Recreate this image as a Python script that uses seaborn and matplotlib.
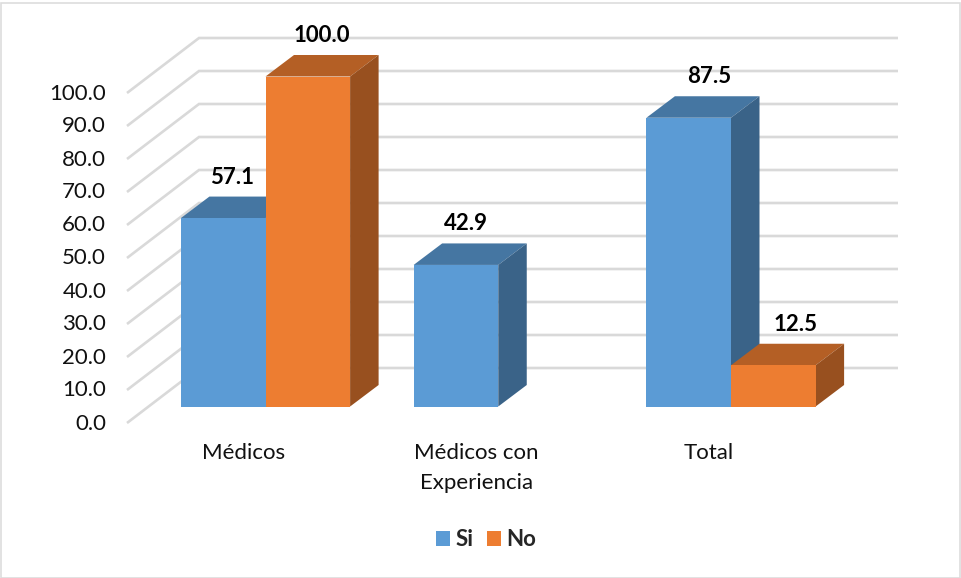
import matplotlib
matplotlib.use("Agg")
import matplotlib.pyplot as plt
import matplotlib.colors as mc
from matplotlib.patches import Polygon, Rectangle
from matplotlib.transforms import ScaledTranslation
import pandas as pd
import seaborn as sns

categories = ["Médicos", "Médicos con\nExperiencia", "Total"]
si_values = [57.1, 42.9, 87.5]
no_values = [100.0, None, 12.5]
series_names = ["Si", "No"]
y_ticks = [0, 10, 20, 30, 40, 50, 60, 70, 80, 90, 100]

sns.set_theme(style="white")
plt.rcParams["font.family"] = ["Lato", "DejaVu Sans"]

W, H = 961, 578
fig = plt.figure(figsize=(W / 100, H / 100), dpi=100, facecolor="white")

# layout in pixels of the picture
PX_LEFT, PX_RIGHT = 127, 898
PX_BASE, PX_TOP = 406.5, 76.5
PX_CAT0, PX_STEP = 265.5, 232.75
BAR_PX = 84.6
DEPTH_X_PX, DEPTH_Y_PX = 28.5, 21.5
ax = fig.add_axes([PX_LEFT / W, 1 - PX_BASE / H, (PX_RIGHT - PX_LEFT) / W, (PX_BASE - PX_TOP) / H])

df = pd.DataFrame({
    "cat": categories * 2,
    "serie": [series_names[0]] * 3 + [series_names[1]] * 3,
    "val": si_values + no_values,
})
palette = {"Si": "#5B9BD5", "No": "#ED7D31"}
sns.barplot(data=df, x="cat", y="val", hue="serie", hue_order=series_names, order=categories,
            palette=palette, width=2 * BAR_PX / PX_STEP, gap=0, saturation=1, dodge=True,
            ax=ax, zorder=3, err_kws={"linewidth": 0}, linewidth=0)

ax.set_xlim((PX_LEFT - PX_CAT0) / PX_STEP, (PX_RIGHT - PX_CAT0) / PX_STEP)
ax.set_ylim(0, 100)
for s in ax.spines.values():
    s.set_visible(False)
ax.set_xlabel("")
ax.set_ylabel("")
ax.grid(False)
ax.patch.set_alpha(0)

ux = 1 / PX_STEP
uy = 100 / (PX_BASE - PX_TOP)
dx, dy = DEPTH_X_PX * ux, DEPTH_Y_PX * uy


def px_x(p):
    return (p - PX_CAT0) * ux


# 3-D floor / back wall gridlines
GRID = "#D9D9D9"
WALL_X0, WALL_X1 = 199, 898
for v in y_ticks:
    wall = v + (PX_BASE - 368) * uy
    front = v - (423 - PX_BASE) * uy
    ax.plot([px_x(127), px_x(WALL_X0), px_x(WALL_X1)], [front, wall, wall], color=GRID, lw=1.9,
            clip_on=False, zorder=1, solid_joinstyle="miter", solid_capstyle="butt")


def shade(c, f):
    r, g, b = mc.to_rgb(c)
    return (r * f, g * f, b * f)


# depth faces derived from each bar drawn by seaborn
label_dx_px = {"Si": [9, 10, 20], "No": [14, 0, 22]}
label_dy_px = 41
for container, name in zip(ax.containers, series_names):
    col = palette[name]
    for bar in container:
        h = bar.get_height()
        if not h == h or h == 0:
            continue
        x0, x1 = bar.get_x(), bar.get_x() + bar.get_width()
        i = int(round((x0 + x1) / 2))
        z = 2 + i * 0.1 + (0.05 if name == "No" else 0)
        ax.add_patch(Polygon([(x0, h), (x1, h), (x1 + dx, h + dy), (x0 + dx, h + dy)],
                             closed=True, fc=shade(col, 0.76), ec="none", clip_on=False, zorder=z))
        ax.add_patch(Polygon([(x1, 0), (x1 + dx, dy), (x1 + dx, h + dy), (x1, h)],
                             closed=True, fc=shade(col, 0.64), ec="none", clip_on=False, zorder=z))
        bar.set_clip_on(False)
        ax.annotate(f"{h:.1f}", xy=((x0 + x1) / 2, h), xytext=(label_dx_px[name][i] * 0.72, label_dy_px * 0.72),
                    textcoords="offset points", ha="center", va="center", fontsize=16,
                    fontweight="bold", color="black", annotation_clip=False, zorder=6)

# ticks
ax.set_yticks(y_ticks)
ax.set_yticklabels([f"{v:.1f}" for v in y_ticks])
ax.tick_params(axis="y", length=0, pad=15, labelsize=16, labelcolor="#111111")
ax.tick_params(axis="x", length=0, pad=26.5, labelsize=16, labelcolor="#111111")
ax.set_xticks(range(len(categories)))
ax.set_xticklabels(categories, linespacing=1.62)
for lab in ax.get_yticklabels():
    lab.set_transform(lab.get_transform() + ScaledTranslation(0, -15 / 100, fig.dpi_scale_trans))
for lab in ax.get_xticklabels():
    lab.set_transform(lab.get_transform() + ScaledTranslation(-22 / 100, 0, fig.dpi_scale_trans))

# legend
sns.move_legend(ax, "center", bbox_to_anchor=(486 / W, 1 - 540 / H), bbox_transform=fig.transFigure,
                ncol=2, frameon=False, title=None, handlelength=0.63, handleheight=0.63,
                handletextpad=0.25, columnspacing=0.62, prop={"weight": "bold", "size": 16})

# chart frame
fig.add_artist(Rectangle((0.5 / W, 0.5 / H), 959 / W, 575 / H, transform=fig.transFigure,
                         fc="none", ec="#DDDDDD", lw=1.2))

fig.savefig("out.png", dpi=100, facecolor="white")
